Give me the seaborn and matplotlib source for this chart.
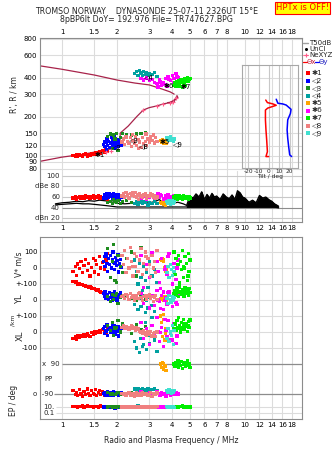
import numpy as np
import pandas as pd
import matplotlib
matplotlib.use("Agg")
import matplotlib.pyplot as plt
from matplotlib.ticker import NullLocator
from matplotlib.lines import Line2D
import seaborn as sns

# ---------------- echo clusters ----------------
# f: frequency (MHz), h: virtual range (km), db: amplitude (dB),
# v: Doppler V* (m/s), yl / xl: echo location (km), pp: polarisation (deg), ep: EP (deg)
f1 = [1.15, 1.18, 1.2, 1.22, 1.25, 1.27, 1.3, 1.32, 1.35, 1.38, 1.4, 1.42, 1.45, 1.48, 1.5, 1.52, 1.55, 1.58, 1.6, 1.63, 1.66, 1.7, 1.74, 1.78]
h1 = [101, 99, 102, 100, 103, 101, 99, 102, 104, 100, 103, 101, 105, 102, 104, 107, 103, 106, 108, 105, 110, 107, 112, 108]
db1 = [58, 60, 56, 59, 61, 57, 60, 58, 62, 59, 61, 57, 60, 63, 58, 61, 59, 62, 57, 60, 58, 61, 59, 56]
v1 = [-20, 10, -45, 25, -5, 40, -30, 15, 55, -15, 30, -50, 5, 60, -25, 45, 20, -40, 70, 0, 35, -10, 50, 90]
yl1 = [115, 110, 112, 100, 105, 95, 98, 90, 88, 85, 80, 82, 75, 70, 72, 65, 60, 62, 55, 50, 45, 40, 35, 30]
xl1 = [-40, -30, -45, -25, -35, -20, -30, -15, -25, -10, -20, -30, -5, -15, 0, -10, 5, -5, 10, 0, 15, 5, -10, 20]
pp1 = [-70, -95, -80, -100, -65, -90, -105, -75, -95, -60, -85, -100, -70, -88, -95, -62, -98, -80, -68, -92, -76, -100, -84, -94]
ep1 = [12, 18, 14, 10, 16, 13, 20, 11, 15, 22, 12, 17, 14, 10, 19, 13, 16, 11, 14, 21, 12, 15, 10, 14]

f2 = [1.68, 1.7, 1.72, 1.74, 1.76, 1.78, 1.8, 1.82, 1.84, 1.86, 1.88, 1.9, 1.92, 1.94, 1.96, 1.98, 2.0, 2.02, 2.04, 2.06, 2.08, 2.1, 1.75, 1.95]
h2 = [122, 130, 118, 127, 135, 121, 129, 116, 126, 138, 120, 131, 124, 140, 118, 128, 122, 133, 119, 126, 130, 121, 112, 114]
db2 = [58, 62, 65, 60, 66, 63, 59, 67, 61, 64, 57, 62, 66, 60, 63, 58, 61, 64, 59, 55, 62, 60, 57, 65]
v2 = [40, 70, 10, 90, 30, -20, 60, 20, 80, 0, 50, 100, 35, -10, 65, 15, 45, 85, -25, 25, 55, 5, 75, 30]
yl2 = [40, 20, 50, 10, 35, 25, 5, 45, 15, 30, 0, 40, 20, 55, 10, 25, -5, 35, 15, 30, 45, 20, 10, 5]
xl2 = [20, -10, 35, 5, 45, -20, 15, 30, -5, 25, 50, 0, 10, 40, -15, 20, 5, 35, -25, 15, 0, 25, 10, 30]
pp2 = [-85, -95, -80, -100, -90, -75, -88, -98, -82, -92, -86, -96, -78, -90, -84, -94, -88, -80, -100, -86, -92, -82, -96, -88]
ep2 = [10, 12, 8, 15, 10, 9, 12, 11, 6, 10, 14, 9, 11, 10, 12, 8, 10, 13, 9, 11, 7, 10, 12, 5]

f3 = [1.78, 1.84, 1.88, 1.92, 1.98, 2.02, 2.08, 2.15, 2.25, 2.4, 2.55, 2.7, 2.85, 1.95]
h3 = [142, 148, 114, 145, 150, 110, 138, 149, 146, 145, 148, 150, 152, 135]
db3 = [50, 52, 48, 55, 49, 53, 47, 51, 54, 50, 48, 52, 49, 51]
v3 = [120, -60, 40, 145, -90, 80, 10, -30, 60, 100, -50, 130, 20, -80]
yl3 = [20, -10, 35, 5, 40, -20, 15, 25, 30, 10, -5, 20, 5, 30]
xl3 = [40, 10, 60, -20, 30, 70, 0, 50, 20, -10, 45, 15, 35, 25]
pp3 = [-80, -90, -85, -95, -88, -82, -92, -86, -90, -84, -96, -80, -88, -92]
ep3 = [10, 12, 9, 11, 10, 13, 8, 10, 12, 9, 11, 10, 12, 9]

f4 = [2.5, 2.55, 2.6, 2.65, 2.7, 2.75, 2.8, 2.85, 2.9, 2.95, 3.0, 3.1, 3.2, 3.3]
h4 = [430, 448, 420, 455, 436, 415, 446, 426, 440, 418, 432, 425, 442, 410]
db4 = [48, 52, 46, 50, 54, 47, 51, 49, 53, 45, 50, 48, 52, 47]
v4 = [50, -20, -100, 30, -60, -140, 10, -80, -30, -120, 40, -50, -10, -90]
yl4 = [-30, 20, -60, 10, -40, 30, -20, -80, 0, -50, 15, -35, -70, 5]
xl4 = [-60, -100, 20, -130, -40, -90, -80, 60, -110, -20, -70, 90, -50, -120]
pp4 = [-60, -70, -55, -75, -65, -58, -72, -62, -68, -56, -74, -64, -60, -70]
ep4 = [15, 12, 20, 10, 18, 14, 16, 11, 13, 19, 12, 15, 17, 10]

f5 = [3.45, 3.5, 3.55, 3.6, 3.65, 3.7, 3.58, 3.68]
h5 = [131, 127, 133, 126, 130, 125, 129, 132]
db5 = [50, 47, 52, 46, 49, 48, 51, 45]
v5 = [55, 45, 60, 40, 0, -10, 50, -20]
yl5 = [10, 5, 15, 0, 20, -5, 8, 12]
xl5 = [100, 60, -30, 80, -50, 20, 110, -10]
pp5 = [90, 70, 100, 60, 80, 50, 95, 75]
ep5 = [12, 10, 14, 9, 11, 13, 10, 12]

f6 = [2.7, 2.8, 2.9, 3.0, 3.1, 3.2, 3.3, 3.35, 3.4, 3.5, 3.6, 3.7, 3.75, 3.8, 3.9, 4.0, 4.1, 4.2, 4.3, 3.45, 3.65, 3.85, 4.05, 4.25]
h6 = [395, 385, 400, 380, 390, 370, 360, 340, 385, 350, 365, 395, 345, 410, 380, 420, 395, 430, 405, 372, 355, 388, 365, 412]
db6 = [58, 62, 55, 60, 64, 57, 61, 66, 59, 63, 56, 62, 60, 65, 58, 61, 57, 63, 59, 64, 55, 60, 62, 58]
v6 = [80, -120, 20, -60, 95, -180, 40, -20, -90, 60, -150, 10, -40, 70, -200, -100, 30, -70, 50, -130, -10, 90, -160, 0]
yl6 = [40, -20, 10, -50, 25, -35, 60, 0, -10, 30, -60, 15, -25, 45, 5, -40, 20, -15, 35, -55, -5, 50, 10, -30]
xl6 = [60, -40, 20, -80, 40, -20, 90, 0, -60, 30, -90, 10, -30, 70, -10, -50, 50, -70, 25, -5, 80, -45, 15, -25]
pp6 = [-75, -85, -95, -80, -100, -90, -78, -88, -98, -82, -92, -105, -76, -86, -96, -84, -94, -80, -90, -100, -86, -78, -92, -88]
ep6 = [10, 12, 9, 14, 11, 10, 13, 8, 12, 10, 11, 15, 9, 12, 10, 13, 11, 9, 12, 10, 14, 11, 10, 12]

f7 = [4.1, 4.15, 4.2, 4.25, 4.3, 4.35, 4.4, 4.45, 4.5, 4.55, 4.6, 4.65, 4.7, 4.75, 4.8, 4.85, 4.9, 4.95, 5.0, 4.38, 4.62, 4.88]
h7 = [350, 365, 345, 372, 360, 380, 355, 390, 368, 340, 385, 372, 395, 350, 378, 400, 385, 392, 398, 342, 362, 375]
db7 = [60, 58, 62, 56, 60, 63, 57, 61, 59, 55, 62, 58, 60, 57, 61, 59, 56, 60, 58, 62, 57, 59]
v7 = [100, -40, 60, -120, 20, 80, -90, 40, -10, 110, -60, 0, 70, -130, 30, -80, 90, -20, 50, -100, 10, -50]
yl7 = [40, 60, 30, 70, 50, 20, 80, 45, 35, 65, 55, 25, 75, 50, 40, 60, 30, 70, 45, 55, 35, 65]
xl7 = [20, 50, 10, 70, 30, 90, 40, 0, 60, 25, 80, 15, 45, 35, 55, 5, 65, 30, 75, 20, 50, 40]
pp7 = [90, 75, 100, 85, 110, 70, 95, 80, 105, 65, 90, 100, 85, 75, 95, 110, 80, 90, 70, 100, 85, 95]
ep7 = [12, 15, 10, 18, 13, 11, 16, 14, 12, 20, 11, 15, 13, 17, 10, 14, 12, 16, 11, 19, 13, 15]

f8 = [2.13, 2.17, 2.2, 2.24, 2.28, 2.32, 2.36, 2.4, 2.44, 2.48, 2.52, 2.56, 2.6, 2.65, 2.7, 2.75, 2.8, 2.85, 2.9, 2.95, 3.0, 3.05, 3.1, 3.15, 3.2, 3.25, 3.3, 2.42, 2.62, 2.88]
h8 = [128, 135, 122, 140, 130, 125, 138, 118, 132, 126, 142, 120, 134, 128, 116, 138, 124, 130, 120, 135, 127, 140, 132, 145, 126, 138, 130, 146, 114, 148]
db8 = [62, 66, 60, 68, 64, 58, 67, 63, 65, 61, 69, 59, 64, 66, 62, 60, 65, 67, 58, 63, 61, 66, 64, 59, 62, 57, 60, 68, 55, 63]
v8 = [80, 20, 110, -30, 60, 0, 130, 40, -50, 90, 10, 70, -20, 50, 120, -40, 30, 100, -10, 60, 20, -55, 80, 0, 40, -30, 110, 10, -20, 70]
yl8 = [20, 30, 10, 35, 25, 5, 40, 15, 20, 0, 30, 25, 10, 45, 15, -5, 20, 30, 5, 25, 35, 10, 20, -10, 15, 30, 5, 25, 40, 20]
xl8 = [30, 40, 20, 35, 25, 15, 30, 40, 20, 25, 10, 30, 15, 5, 0, -10, 10, -5, -20, 0, -15, 5, -25, -10, -5, -30, 0, 35, 20, -15]
pp8 = [-85, -95, -90, -100, -88, -80, -98, -92, -86, -105, -90, -84, -96, -88, -100, -82, -94, -90, -86, -98, -92, -80, -104, -88, -95, -90, -84, -100, -92, -86]
ep8 = [10, 9, 11, 8, 10, 12, 9, 10, 11, 8, 10, 9, 12, 10, 8, 11, 10, 9, 10, 12, 9, 10, 11, 8, 10, 9, 12, 10, 11, 9]

f9 = [3.75, 3.8, 3.85, 3.9, 3.95, 4.0, 4.05, 4.1]
h9 = [138, 134, 131, 140, 133, 137, 129, 135]
db9 = [52, 48, 54, 46, 50, 53, 47, 51]
v9 = [-30, 10, -60, 20, -10, -45, 5, -20]
yl9 = [10, -20, 30, 0, -15, 20, -5, 15]
xl9 = [-40, 20, -60, 0, -20, 40, -80, 10]
pp9 = [-70, -80, -65, -75, -85, -72, -78, -68]
ep9 = [12, 10, 14, 11, 13, 10, 12, 9]

echo_names = ["✱1", "◁2", "◁3", "◁4", "✱5", "✱6", "✱7", "◁8", "◁9"]
echo_colors = ["#ff0000", "#0000ff", "#1e8c1e", "#00a0a0", "#ffa500",
               "#ff00ff", "#00ee00", "#f08080", "#40e0d0"]

# labels written beside each echo trace
tag_f = [1.60, 2.00, 2.46, 2.97, 3.66, 3.82, 4.75, 2.82, 4.28]
tag_h = [101, 117, 132, 405, 128, 346, 341, 120, 123]

# model curve and true-height profile
upper_f = [0.76, 1.0, 1.5, 2.0, 2.5, 3.0, 3.5, 3.9, 4.1]
upper_h = [495, 466, 421, 385, 365, 353, 329, 312, 300]
prof_f = [0.76, 1.0, 1.3, 1.6, 1.9, 2.07, 2.08, 2.3, 2.56, 2.78, 3.0, 3.29, 3.58, 3.89, 4.1, 4.3, 4.25, 4.1, 3.8]
prof_h = [91, 98, 103, 109, 114, 118, 150, 170, 201, 226, 236, 243, 252, 258, 270, 282, 292, 262, 258]
nexyz_f = [1.75, 1.85, 2.78, 3.29, 3.58, 3.89, 4.05, 4.2]
nexyz_h = [108, 110, 226, 243, 252, 258, 262, 280]

# tilt profiles (deg) versus height (km)
tiltx_deg = [-3.1, -1.5, 3.8, 7.0, -1.2, -3.4, -3.4, -2.9, -2.2, -1.5, -2.9, -0.3]
tiltx_h = [270, 258, 252, 246, 234, 226, 190, 159, 133, 108, 99, 99]
tilty_deg = [7.0, 8.6, 13.3, 16.6, 21.3, 20.7, 18.1, 17.5, 18.1, 19.0, 20.0, 21.9]
tilty_h = [274, 255, 252, 247, 229, 213, 190, 159, 137, 118, 102, 99]

# receiver noise / 50 dB threshold
noise_f = [0.92, 1.0, 1.1, 1.2, 1.3, 1.4, 1.5, 1.6, 1.7, 1.8, 1.9, 2.0, 2.2, 2.4, 2.6, 2.8, 3.0, 3.2, 3.4, 3.6, 3.8, 4.0, 4.3, 4.6, 4.8, 5.0, 5.2, 5.4, 5.6, 5.8, 6.0, 6.2, 6.4, 6.6, 6.8, 7.0, 7.3, 7.6, 7.9, 8.2, 8.5, 8.8, 9.1, 9.4, 9.7, 10.0, 10.5, 11.0, 11.5, 12.0, 12.5, 13.0, 13.5, 14.0, 14.5, 15.2]
noise_top = [47, 49, 50, 52, 51, 53, 52, 54, 53, 52, 50, 48, 47, 48, 50, 48, 49, 51, 55, 50, 52, 48, 50, 47, 44, 62, 58, 66, 60, 70, 55, 65, 58, 67, 60, 62, 55, 66, 60, 57, 64, 55, 72, 68, 60, 58, 50, 54, 49, 63, 58, 60, 55, 52, 47, 43]
noise_low = [45, 46, 47, 48, 47, 47, 46, 45, 44, 43, 42, 41, 41, 41, 41, 41, 41, 41, 41, 41, 41, 41, 41, 41, 41, 41, 41, 41, 41, 41, 41, 41, 41, 41, 41, 41, 41, 41, 41, 41, 41, 41, 41, 41, 41, 41, 41, 41, 41, 41, 41, 41, 41, 41, 41, 40]

top_ticks = [1, 1.5, 2, 3, 4, 5, 6, 7, 8, 10, 12, 14, 16, 18]
mid_ticks = [1, 1.5, 2, 3, 4, 5, 6, 7, 8, 9, 10, 12, 14, 16, 18]
range_ticks = [80, 90, 100, 120, 150, 200, 300, 400, 600, 800]

# ---------------- assemble long table ----------------
cols = {"f": [f1, f2, f3, f4, f5, f6, f7, f8, f9], "h": [h1, h2, h3, h4, h5, h6, h7, h8, h9],
        "db": [db1, db2, db3, db4, db5, db6, db7, db8, db9], "v": [v1, v2, v3, v4, v5, v6, v7, v8, v9],
        "yl": [yl1, yl2, yl3, yl4, yl5, yl6, yl7, yl8, yl9], "xl": [xl1, xl2, xl3, xl4, xl5, xl6, xl7, xl8, xl9],
        "pp": [pp1, pp2, pp3, pp4, pp5, pp6, pp7, pp8, pp9], "ep": [ep1, ep2, ep3, ep4, ep5, ep6, ep7, ep8, ep9]}
frames = []
for i, name in enumerate(echo_names):
    d = pd.DataFrame({k: v[i] for k, v in cols.items()})
    d["echo"] = name
    frames.append(d)
df = pd.concat(frames, ignore_index=True)
palette = dict(zip(echo_names, echo_colors))

# stacked bands of the lower panel share one vertical axis (units = pixels of band)
V_ZERO, YL_ZERO, XL_ZERO, PP_ZERO, EP_ZERO = 151, 119, 87, 40, 9
K_VEL = 0.16          # band units per m/s (or km)
K_PP = 30 / 180       # band units per degree
K_EP = 3              # band units per decade
df["u_v"] = V_ZERO + df["v"] * K_VEL
df["u_yl"] = YL_ZERO + df["yl"] * K_VEL
df["u_xl"] = XL_ZERO + df["xl"] * K_VEL
df["u_pp"] = PP_ZERO + df["pp"] * K_PP
df["u_ep"] = EP_ZERO + np.log10(df["ep"]) * K_EP

# ---------------- figure ----------------
sns.set_theme(style="white")
plt.rcParams["font.family"] = ["DejaVu Sans"]
W, H = 335, 451
fig = plt.figure(figsize=(W / 100, H / 100), dpi=100)
fig.patch.set_facecolor("white")


def prect(x0, y0, x1, y1):
    return [x0 / W, 1 - y1 / H, (x1 - x0) / W, (y1 - y0) / H]


def ptext(x, y, s, **kw):
    fig.text(x / W, 1 - y / H, s, **kw)


FMIN, FMAX = 0.758, 20.5
GRID = "#dcdcdc"
SPINE = "#8c8c8c"
TS = 5.0
MS = 5.5

ax_top = fig.add_axes(prect(40, 38, 302, 171))
ax_db = fig.add_axes(prect(40, 171, 302, 222))
ax_mid = fig.add_axes(prect(40, 236.7, 302, 419))

for ax in (ax_top, ax_db, ax_mid):
    ax.set_xscale("log")
    ax.set_xlim(FMIN, FMAX)
    ax.xaxis.set_minor_locator(NullLocator())
    ax.set_facecolor("white")
    for s in ax.spines.values():
        s.set_color(SPINE)
        s.set_linewidth(0.8)
    ax.tick_params(length=0, labelsize=TS, pad=2, colors="black")

# ---- range panel
ax_top.set_yscale("log")
ax_top.set_ylim(76.6, 812)
ax_top.yaxis.set_minor_locator(NullLocator())
ax_top.set_yticks(range_ticks, labels=[str(t) for t in range_ticks])
ax_top.set_xticks(top_ticks, labels=[str(t) for t in top_ticks])
ax_top.tick_params(axis="x", top=True, labeltop=True, bottom=False, labelbottom=False)
ax_top.grid(True, color=GRID, lw=0.8)
ax_top.set_axisbelow(True)
ax_top.spines["bottom"].set_visible(False)

sns.lineplot(x=upper_f, y=upper_h, sort=False, estimator=None, color="#a8234a", lw=0.9, ax=ax_top)
sns.lineplot(x=prof_f, y=prof_h, sort=False, estimator=None, color="#a8234a", lw=0.9, ax=ax_top)
sns.scatterplot(data=df, x="f", y="h", hue="echo", palette=palette, marker="s", s=MS,
                linewidth=0, legend=False, ax=ax_top, zorder=3)
ax_top.scatter(nexyz_f, nexyz_h, marker="+", s=12, color="#ff5c8a", lw=0.8, zorder=4)
for name, tf, th in zip(echo_names, tag_f, tag_h):
    ax_top.text(tf, th, name, fontsize=5, ha="center", va="center", color="black", zorder=5)
ax_top.set_xlabel("")
ax_top.set_ylabel("")

# ---- amplitude panel
ax_db.set_ylim(12.4, 109.5)
ax_db.set_yticks([])
ax_db.set_xticks(mid_ticks, labels=[str(t) for t in mid_ticks])
ax_db.xaxis.grid(True, color=GRID, lw=0.8)
ax_db.set_axisbelow(True)
ax_db.spines["top"].set_visible(False)
for lvl, col in [(100, "#c8c8c8"), (80, "#c8c8c8"), (60, "#c8c8c8"), (40, "#8c8c8c"), (20, "#c8c8c8")]:
    ax_db.hlines(lvl, 1.0, FMAX, color=col, lw=0.8, zorder=1)
for lvl, lab in [(100, "100"), (80, "dBe 80"), (60, "60"), (40, "40"), (20, "dBn 20")]:
    ax_db.text(0.975, lvl, lab, fontsize=TS, ha="right", va="center")
nf = np.array(noise_f)
ax_db.fill_between(nf, noise_low, noise_top, where=nf >= 4.8, color="black", lw=0.6, zorder=2)
sns.lineplot(x=noise_f, y=noise_top, sort=False, estimator=None, color="black", lw=0.9, ax=ax_db)
sns.lineplot(x=noise_f, y=noise_low, sort=False, estimator=None, color="black", lw=0.9, ax=ax_db)
sns.scatterplot(data=df, x="f", y="db", hue="echo", palette=palette, marker="s", s=MS,
                linewidth=0, legend=False, ax=ax_db, zorder=3)
ax_db.set_xlabel("")
ax_db.set_ylabel("")

# ---- Doppler / location / polarisation panel
ax_mid.set_ylim(0, 182.3)
band_ticks = [V_ZERO + 100 * K_VEL, V_ZERO, YL_ZERO + 100 * K_VEL, YL_ZERO,
              XL_ZERO + 100 * K_VEL, XL_ZERO, XL_ZERO - 100 * K_VEL]
ax_mid.set_yticks(band_ticks, labels=["100", "0", "+-100", "0", "+-100", "0", "-100"])
ax_mid.set_xticks(top_ticks, labels=[str(t) for t in top_ticks])
ax_mid.grid(True, color=GRID, lw=0.8)
ax_mid.set_axisbelow(True)
ax_mid.hlines(PP_ZERO + 90 * K_PP, 1.0, FMAX, color="#8c8c8c", lw=0.9, zorder=1)
ax_mid.hlines(PP_ZERO - 90 * K_PP, 0.9, FMAX, color="#8c8c8c", lw=0.9, zorder=1)
ax_mid.hlines([EP_ZERO + K_EP, EP_ZERO - K_EP], 0.93, FMAX, color=GRID, lw=0.8, zorder=1)
ax_mid.text(0.975, PP_ZERO + 90 * K_PP, "x  90", fontsize=TS, ha="right", va="center")
ax_mid.text(0.80, PP_ZERO, "PP", fontsize=TS, ha="left", va="center")
ax_mid.text(0.90, PP_ZERO - 90 * K_PP, "o  -90", fontsize=TS, ha="right", va="center")
ax_mid.text(0.91, EP_ZERO + K_EP, "10.", fontsize=TS, ha="right", va="center")
ax_mid.text(0.91, EP_ZERO - K_EP, "0.1", fontsize=TS, ha="right", va="center")
for col in ["u_v", "u_yl", "u_xl", "u_pp", "u_ep"]:
    sns.scatterplot(data=df, x="f", y=col, hue="echo", palette=palette, marker="s", s=MS,
                    linewidth=0, legend=False, ax=ax_mid, zorder=3)
ax_mid.set_xlabel("Radio and Plasma Frequency / MHz", fontsize=5.5, labelpad=6)
ax_mid.set_ylabel("")

# ---- tilt inset
ax_in = fig.add_axes(prect(242, 65, 298, 168))
ax_in.set_facecolor("none")
ax_in.set_xlim(-26, 28)
ax_in.set_yscale("log")
ax_in.set_ylim(80.8, 503)
ax_in.yaxis.set_minor_locator(NullLocator())
ax_in.set_yticks([])
ax_in.set_xticks([-20, -10, 0, 10, 20], labels=["-20", "-10", "0", "10", "20"])
ax_in.xaxis.set_minor_locator(NullLocator())
ax_in.tick_params(length=0, labelsize=4.2, pad=1)
ax_in.xaxis.grid(True, color="#c8c8c8", lw=0.8)
for s in ax_in.spines.values():
    s.set_color("#a8a8a8")
    s.set_linewidth(0.8)
sns.lineplot(x=tiltx_deg, y=tiltx_h, sort=False, estimator=None, color="#ff0000", lw=1.1, ax=ax_in)
sns.lineplot(x=tilty_deg, y=tilty_h, sort=False, estimator=None, color="#0000ff", lw=1.1, ax=ax_in)
ax_in.set_xlabel("Tilt / deg", fontsize=4.2, labelpad=0)
ax_in.set_ylabel("")

# ---- titles and side labels
ptext(35, 12, "TROMSO NORWAY    DYNASONDE 25-07-11 2326UT 15°E", fontsize=5.7, va="center", ha="left")
ptext(60, 20, "8pBP6It DoY= 192.976 File= TR747627.BPG", fontsize=5.7, va="center", ha="left")
ptext(302.5, 8, "HPTx is OFF!", fontsize=6, color="#ff0000", ha="center", va="center",
      bbox=dict(boxstyle="square,pad=0.15", fc="#ffff00", ec="#ff0000", lw=0.8))
ptext(14, 95, "R', R / km", fontsize=5.5, rotation=90, ha="center", va="center")
ptext(19, 264, "V* m/s", fontsize=5.5, rotation=90, ha="center", va="center")
ptext(20, 299, "YL", fontsize=6, rotation=90, ha="center", va="center")
ptext(13, 320, "/km", fontsize=4.3, rotation=90, ha="center", va="center")
ptext(20, 336, "XL", fontsize=6, rotation=90, ha="center", va="center")
ptext(14, 400, "EP / deg", fontsize=5.5, rotation=90, ha="center", va="center")

# ---- right-hand keys
def pline(x0, x1, y, **kw):
    fig.add_artist(Line2D([x0 / W, x1 / W], [1 - y / H, 1 - y / H], transform=fig.transFigure, **kw))


pline(303, 308, 43, color="#a0a0a0", lw=1)
ptext(309, 43, "T50dB", fontsize=5, va="center")
fig.add_artist(Line2D([306 / W], [1 - 49 / H], marker="o", ms=1.2, color="black", transform=fig.transFigure))
ptext(309, 49, "UnCl", fontsize=5, va="center")
pline(303, 308, 55, color="#ff7fa0", lw=0.8)
fig.add_artist(Line2D([305.5 / W], [1 - 55 / H], marker="+", ms=3, mew=0.8, color="#ff5c8a", transform=fig.transFigure))
ptext(309, 55, "NeXYZ", fontsize=5, va="center")
pline(303, 307, 62, color="#ff0000", lw=0.9)
ptext(307, 62, "Θx", fontsize=5, va="center", color="#c02040")
pline(315, 319, 62, color="#0000ff", lw=0.9)
ptext(319, 62, "Θy", fontsize=5, va="center", color="#2020c0")
for i, (name, col) in enumerate(zip(echo_names, echo_colors)):
    y = 73 + i * 7.5
    fig.add_artist(Line2D([308 / W], [1 - y / H], marker="s", ms=2.3, mew=0, color=col,
                          transform=fig.transFigure))
    ptext(312, y, name, fontsize=5.3, va="center")

fig.savefig("out.png", dpi=100, facecolor="white")
